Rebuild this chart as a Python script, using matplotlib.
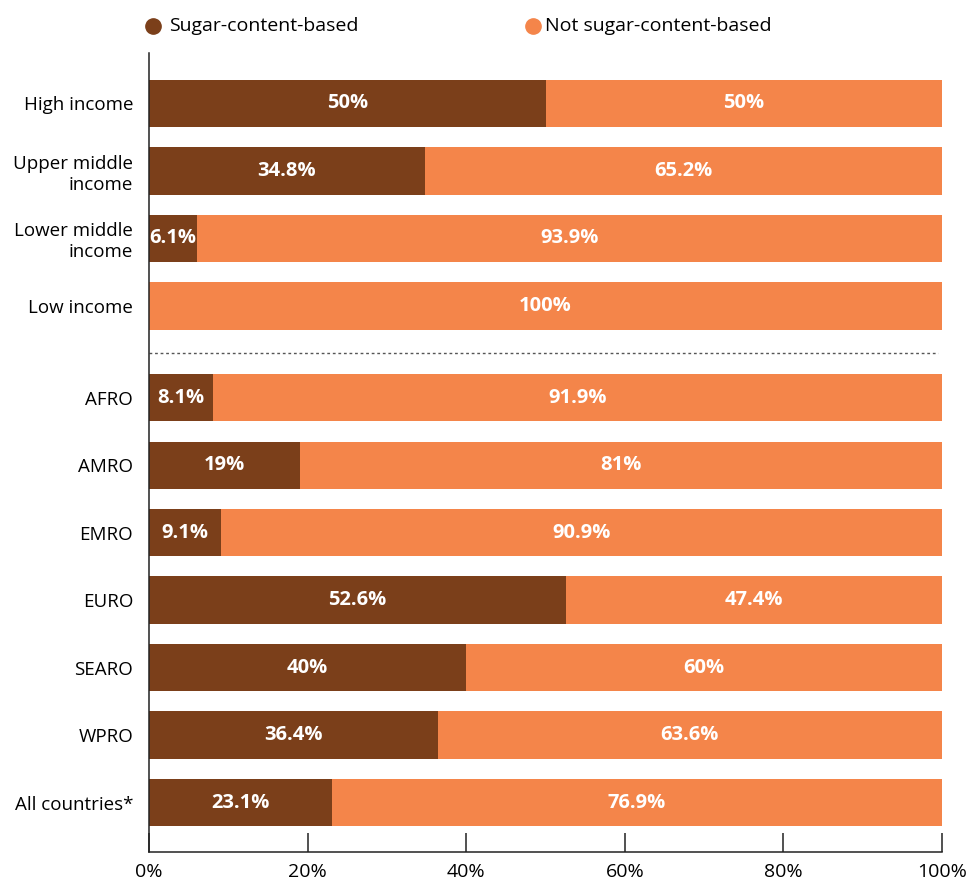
import matplotlib
matplotlib.use("Agg")
import matplotlib.pyplot as plt
from matplotlib.lines import Line2D

plt.rcParams['font.family'] = ['Open Sans', 'DejaVu Sans']

categories = ["High income", "Upper middle\nincome", "Lower middle\nincome", "Low income",
              "AFRO", "AMRO", "EMRO", "EURO", "SEARO", "WPRO", "All countries*"]
sugar = [50, 34.8, 6.1, 0, 8.1, 19, 9.1, 52.6, 40, 36.4, 23.1]
not_sugar = [50, 65.2, 93.9, 100, 91.9, 81, 90.9, 47.4, 60, 63.6, 76.9]
sugar_labels = ["50%", "34.8%", "6.1%", "", "8.1%", "19%", "9.1%", "52.6%", "40%", "36.4%", "23.1%"]
not_labels = ["50%", "65.2%", "93.9%", "100%", "91.9%", "81%", "90.9%", "47.4%", "60%", "63.6%", "76.9%"]
xticks = [0, 20, 40, 60, 80, 100]
xtick_labels = ["0%", "20%", "40%", "60%", "80%", "100%"]

BROWN = "#7b3f1a"
ORANGE = "#f4854a"

# row positions: gap between income groups and regions
gap = 0.36
ypos = [i if i < 4 else i + gap for i in range(len(categories))]

fig = plt.figure(figsize=(9.7, 8.85), dpi=100)
ax = fig.add_axes([149/970, 1 - 852/885, (942-149)/970, (852-53)/885])

ax.barh(ypos, sugar, height=0.70, color=BROWN)
ax.barh(ypos, not_sugar, left=sugar, height=0.70, color=ORANGE)

for y, s, n, sl, nl in zip(ypos, sugar, not_sugar, sugar_labels, not_labels):
    if sl:
        ax.text(s / 2, y, sl, ha='center', va='center', color='white',
                fontsize=14.5, fontweight='bold')
    ax.text(s + n / 2, y, nl, ha='center', va='center', color='white',
            fontsize=14.5, fontweight='bold')

ax.axhline(3.70, xmin=0, xmax=0.995, color='#555555', lw=1, ls=(0, (2, 2)))

ax.set_xlim(0, 100)
ax.set_ylim(ypos[-1] + 0.733, -0.748)
ax.set_yticks(ypos)
ax.set_yticklabels(categories, fontsize=13.5, multialignment='right', linespacing=1.2)
ax.tick_params(axis='y', length=0, pad=11.5)
ax.set_xticks(xticks)
ax.set_xticklabels(xtick_labels, fontsize=14)
ax.tick_params(axis='x', direction='in', length=13.7, width=1.1, color='#222222', pad=8)

for side in ['top', 'right']:
    ax.spines[side].set_visible(False)
for side in ['left', 'bottom']:
    ax.spines[side].set_color('#222222')
    ax.spines[side].set_linewidth(1.1)

# legend
ly = 1 - 26/885
fig.add_artist(Line2D([153/970], [ly], marker='o', markersize=11, color=BROWN,
                      transform=fig.transFigure))
fig.text(169/970, ly, "Sugar-content-based", fontsize=14, va='center')
fig.add_artist(Line2D([533/970], [ly], marker='o', markersize=11, color=ORANGE,
                      transform=fig.transFigure))
fig.text(545/970, ly, "Not sugar-content-based", fontsize=14, va='center')

fig.savefig("out.png", dpi=100)
